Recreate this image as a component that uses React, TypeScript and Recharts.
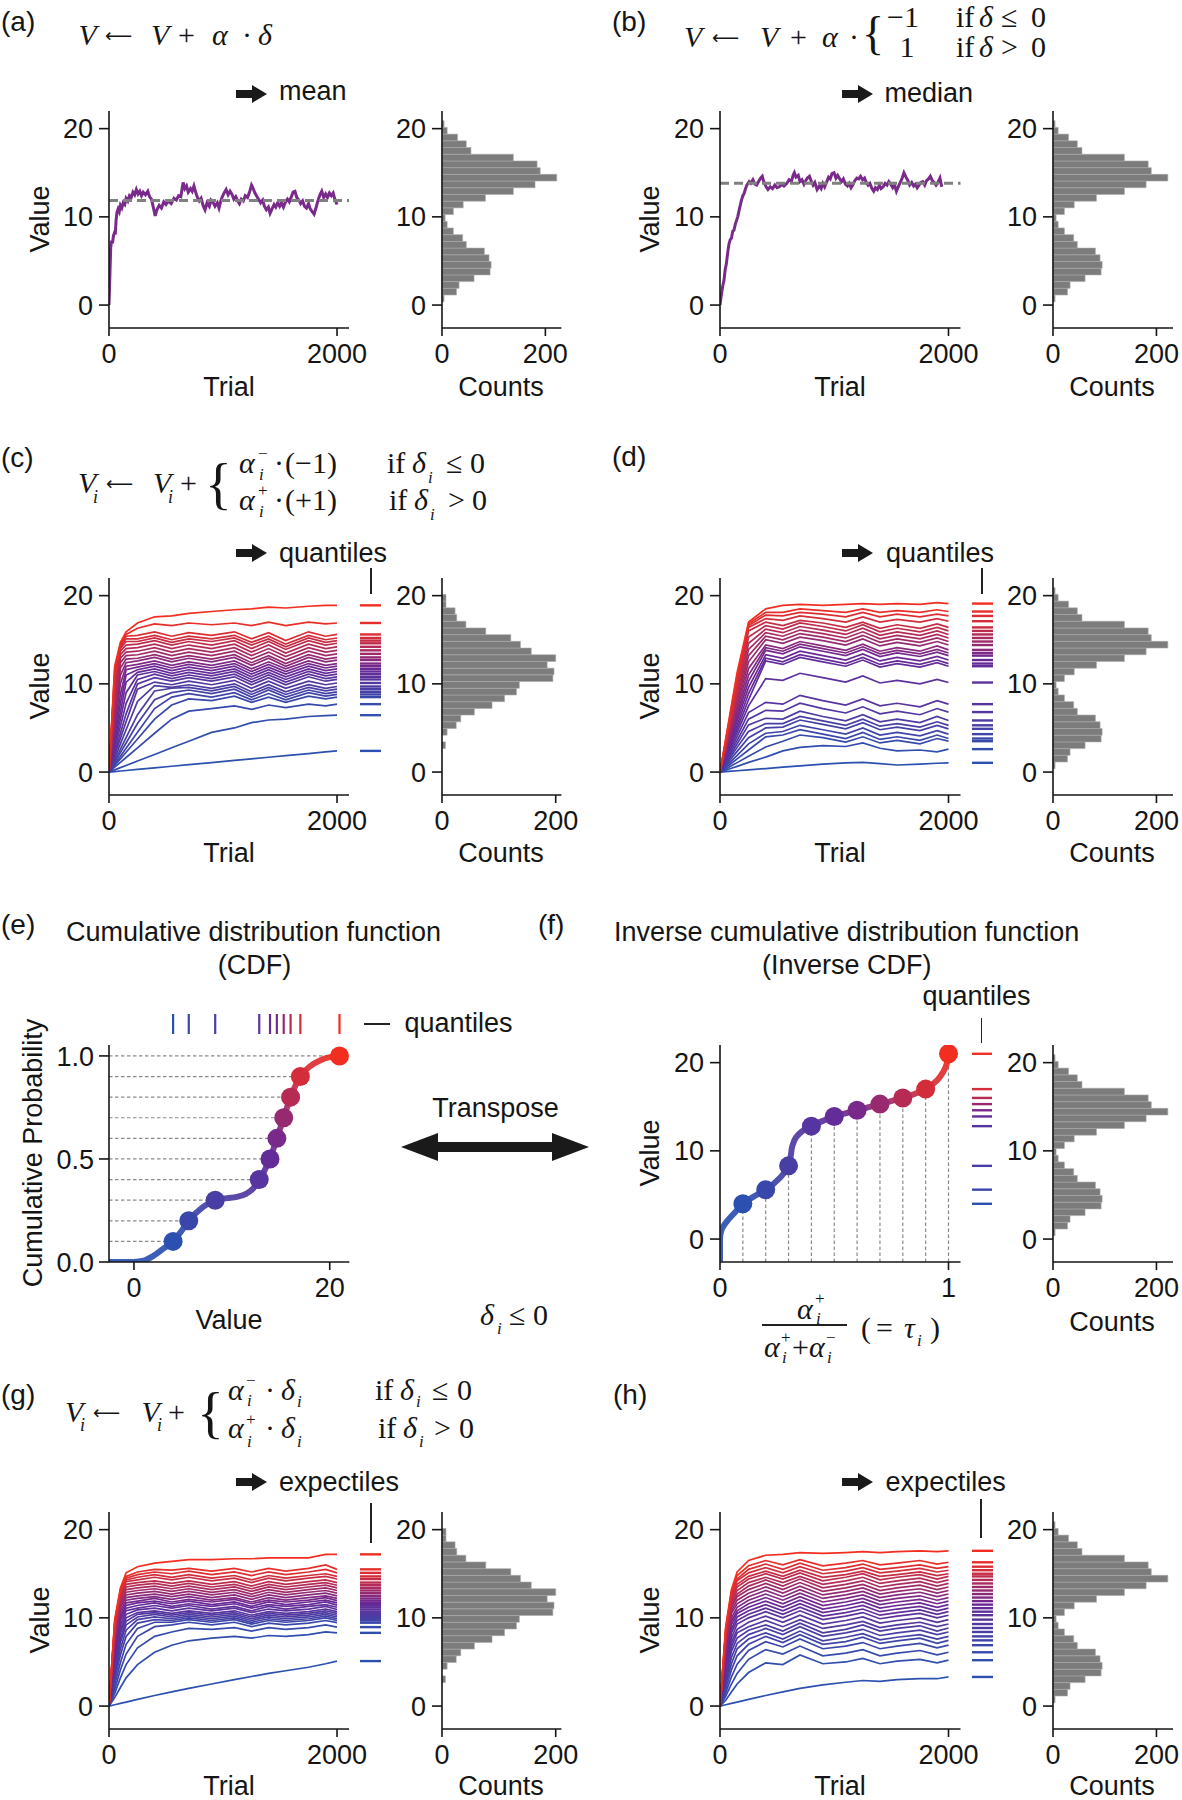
import React from 'react';
import { ComposedChart, Line, XAxis, YAxis, ReferenceLine, ReferenceArea } from 'recharts';

const FONT = '"Liberation Sans", Arial, Helvetica, sans-serif';
const SERIF = '"Liberation Serif", "Times New Roman", Times, serif';
const INK = '#151515';

// ---------------- axes ----------------
const TRIAL_DOMAIN = [0, 2105];
const TRIAL_TICKS = [0, 2000];
const VALUE_DOMAIN = [-2.6, 22];
const VALUE_TICKS = [0, 10, 20];
const COUNT_TICKS = [0, 200];
const COUNT_DOMAIN_BI = [0, 231];
const COUNT_DOMAIN_BI_R = [0, 232];
const COUNT_DOMAIN_UNI = [0, 210];
const PROB_DOMAIN = [0, 1.053];
const PROB_TICKS = [0, 0.5, 1];
const CDF_VALUE_DOMAIN = [-2.55, 22];
const CDF_VALUE_TICKS = [0, 20];
const TAU_DOMAIN = [0, 1.0525];
const TAU_TICKS = [0, 1];

// ---------------- (a) mean learner ----------------
const A_TRIAL = [0, 8, 15, 22, 30, 40, 48, 55, 62, 70, 80, 90, 100, 112, 125, 138, 150, 165, 180, 195, 210, 225, 240, 255, 270, 285, 300, 320, 340, 355, 372, 390, 405, 420, 440, 460, 480, 500, 520, 545, 570, 591, 610, 630, 650, 665, 680, 695, 715, 730, 745, 760, 775, 792, 808, 825, 842, 860, 880, 895, 910, 930, 950, 965, 985, 1005, 1027, 1045, 1062, 1077, 1095, 1112, 1130, 1144, 1160, 1178, 1195, 1215, 1235, 1250, 1262, 1280, 1297, 1312, 1330, 1348, 1363, 1380, 1398, 1413, 1430, 1448, 1463, 1480, 1497, 1513, 1530, 1548, 1565, 1581, 1600, 1615, 1631, 1647, 1665, 1681, 1698, 1715, 1732, 1750, 1765, 1782, 1799, 1815, 1832, 1850, 1866, 1883, 1900, 1916, 1933, 1950, 1966, 1983, 2000];
const A_VALUE = [0, 3.5, 6.5, 7.3, 7.0, 7.9, 8.2, 8.0, 9.6, 10.5, 10.9, 10.6, 11.3, 11.0, 11.6, 11.4, 12.1, 11.8, 12.4, 12.2, 12.8, 12.5, 13.1, 12.6, 12.9, 12.4, 12.8, 12.5, 12.9, 12.3, 12.0, 11.0, 10.1, 10.8, 11.3, 11.0, 11.7, 11.4, 11.8, 11.5, 12.1, 11.9, 12.4, 12.3, 13.9, 13.2, 13.5, 12.8, 13.2, 12.9, 13.5, 12.8, 12.2, 11.8, 12.1, 11.3, 10.8, 11.6, 11.2, 11.9, 11.7, 11.2, 11.6, 11.0, 12.0, 12.6, 13.1, 12.5, 12.9, 12.6, 12.0, 12.3, 11.8, 11.5, 12.0, 11.8, 12.4, 12.2, 12.9, 13.6, 13.3, 12.7, 12.3, 12.0, 11.6, 11.9, 11.2, 10.8, 11.1, 10.4, 10.9, 11.4, 11.1, 11.6, 11.2, 11.6, 11.1, 11.7, 12.0, 11.7, 12.3, 12.8, 12.9, 12.2, 11.9, 11.5, 11.8, 11.2, 11.0, 11.5, 10.9, 10.6, 10.3, 11.0, 11.8, 12.5, 12.9, 12.2, 12.6, 12.2, 12.7, 12.4, 12.7, 11.9, 11.4];
const A_MEAN = 11.84;

// ---------------- (b) median learner ----------------
const B_TRIAL = [0, 10, 23, 35, 45, 56, 66, 78, 89, 100, 112, 122, 135, 145, 155, 170, 188, 200, 210, 221, 235, 255, 270, 288, 305, 321, 338, 355, 370, 385, 400, 420, 440, 460, 480, 500, 519, 540, 560, 585, 605, 625, 640, 651, 665, 685, 700, 717, 735, 750, 765, 783, 800, 815, 830, 850, 870, 885, 900, 916, 935, 950, 965, 980, 998, 1015, 1030, 1048, 1064, 1080, 1098, 1115, 1130, 1147, 1165, 1180, 1198, 1215, 1230, 1248, 1265, 1280, 1296, 1312, 1330, 1345, 1360, 1378, 1395, 1410, 1428, 1445, 1462, 1478, 1495, 1512, 1528, 1544, 1560, 1578, 1595, 1610, 1628, 1645, 1660, 1678, 1695, 1710, 1726, 1742, 1758, 1775, 1792, 1808, 1825, 1841, 1858, 1875, 1891, 1908, 1925, 1941];
const B_VALUE = [0, 1.0, 2.1, 2.8, 4.0, 4.7, 5.8, 6.9, 7.4, 7.6, 8.4, 8.5, 9.2, 9.6, 10.0, 10.9, 11.9, 12.4, 12.6, 13.1, 13.6, 14.0, 13.8, 14.2, 13.7, 13.6, 14.0, 14.4, 14.6, 13.9, 13.5, 13.1, 13.4, 13.2, 13.6, 13.3, 13.4, 13.7, 13.5, 13.8, 14.2, 14.0, 14.7, 15.0, 14.5, 14.7, 14.0, 14.2, 13.7, 14.1, 14.4, 14.6, 14.0, 13.6, 13.9, 13.1, 13.5, 13.2, 13.8, 13.4, 14.0, 14.5, 14.3, 14.9, 15.0, 14.4, 14.7, 14.3, 14.0, 14.3, 13.7, 13.5, 13.8, 13.3, 13.7, 14.1, 14.4, 14.3, 14.6, 14.2, 14.4, 13.9, 13.6, 13.8, 13.2, 12.9, 13.3, 13.1, 13.6, 13.2, 13.4, 13.8, 13.6, 14.0, 13.7, 13.3, 13.6, 12.9, 13.4, 13.9, 14.4, 15.0, 14.5, 14.1, 13.6, 13.9, 13.5, 13.7, 13.3, 13.6, 13.9, 14.0, 13.6, 14.1, 14.3, 14.6, 14.1, 13.9, 13.6, 13.9, 14.4, 13.4];
const B_MEDIAN = 13.8;

// ---------------- histograms ----------------
const HIST_EDGES = [0.38, 1.14, 1.9, 2.66, 3.42, 4.18, 4.94, 5.7, 6.46, 7.22, 7.98, 8.74, 9.5, 10.26, 11.02, 11.78, 12.54, 13.3, 14.06, 14.82, 15.58, 16.34, 17.1, 17.86, 18.62, 19.38, 20.14, 20.9];
const HIST_BIMODAL = [4, 28, 33, 62, 93, 95, 91, 82, 47, 40, 22, 10, 6, 22, 41, 84, 138, 180, 222, 190, 184, 138, 56, 47, 30, 10, 4];
const HIST_UNIMODAL = [0, 0, 0, 6, 0, 9, 25, 33, 57, 88, 110, 131, 136, 195, 197, 185, 200, 157, 138, 121, 77, 42, 26, 23, 7, 7, 0];

// ---------------- multi-unit trajectories ----------------
const T_GRID = [0, 50, 100, 150, 250, 400, 550, 700, 900, 1100, 1250, 1400, 1550, 1750, 1900, 2000];

const C_LINES = [
  [0, 0.06, 0.12, 0.18, 0.3, 0.48, 0.66, 0.84, 1.08, 1.32, 1.5, 1.68, 1.86, 2.1, 2.28, 2.4],
  [0, 0.25, 0.5, 0.75, 1.25, 2.0, 2.75, 3.5, 4.5, 5.0, 5.6, 5.9, 6.0, 6.3, 6.4, 6.45],
  [0, 0.55, 1.1, 1.65, 2.75, 4.4, 6.0, 6.9, 7.2, 7.5, 7.1, 7.6, 7.3, 7.7, 7.5, 7.7],
  [0, 0.75, 1.5, 2.25, 3.75, 6.0, 7.6, 8.3, 8.1, 8.6, 7.9, 8.5, 7.9, 8.6, 8.3, 8.5],
  [0, 0.9, 1.8, 2.7, 4.5, 7.2, 8.5, 8.9, 8.5, 9.0, 8.2, 8.9, 8.2, 9.0, 8.6, 8.8],
  [0, 1.1, 2.2, 3.3, 5.5, 8.2, 9.0, 9.3, 8.9, 9.4, 8.5, 9.3, 8.5, 9.3, 8.9, 9.1],
  [0, 1.3, 2.6, 3.9, 6.5, 9.2, 9.5, 9.6, 9.2, 9.7, 8.8, 9.6, 8.8, 9.6, 9.2, 9.4],
  [0, 1.6, 3.2, 4.8, 8.0, 9.8, 9.6, 9.9, 9.5, 10.0, 9.1, 9.9, 9.1, 9.9, 9.5, 9.7],
  [0, 1.9, 3.8, 5.7, 9.4, 10.2, 9.9, 10.3, 9.9, 10.4, 9.5, 10.3, 9.5, 10.3, 9.9, 10.1],
  [0, 2.2, 4.4, 6.6, 10.0, 10.7, 10.3, 10.7, 10.3, 10.8, 9.9, 10.7, 9.9, 10.8, 10.3, 10.5],
  [0, 2.6, 5.2, 7.8, 10.5, 11.1, 10.6, 11.0, 10.6, 11.1, 10.2, 11.0, 10.2, 11.1, 10.6, 10.8],
  [0, 3.0, 6.0, 9.0, 11.0, 11.4, 10.9, 11.3, 10.9, 11.4, 10.5, 11.3, 10.5, 11.4, 10.9, 11.1],
  [0, 3.4, 6.8, 10.2, 11.3, 11.7, 11.2, 11.6, 11.2, 11.7, 10.8, 11.6, 10.8, 11.7, 11.2, 11.4],
  [0, 3.9, 7.8, 11.0, 11.6, 12.0, 11.5, 11.9, 11.5, 12.0, 11.1, 11.9, 11.1, 12.0, 11.5, 11.7],
  [0, 4.4, 8.8, 11.6, 11.9, 12.3, 11.8, 12.2, 11.8, 12.3, 11.4, 12.2, 11.4, 12.3, 11.8, 12.0],
  [0, 5.0, 10.0, 12.0, 12.2, 12.6, 12.1, 12.5, 12.1, 12.6, 11.7, 12.5, 11.7, 12.6, 12.1, 12.3],
  [0, 5.6, 11.0, 12.4, 12.6, 13.0, 12.5, 12.9, 12.5, 13.0, 12.1, 12.9, 12.0, 13.0, 12.5, 12.7],
  [0, 6.2, 11.8, 12.8, 12.9, 13.3, 12.8, 13.2, 12.8, 13.3, 12.4, 13.2, 12.3, 13.3, 12.8, 13.0],
  [0, 7.0, 12.4, 13.2, 13.3, 13.7, 13.2, 13.6, 13.2, 13.7, 12.8, 13.6, 12.7, 13.7, 13.2, 13.4],
  [0, 7.8, 12.9, 13.6, 13.7, 14.1, 13.6, 14.0, 13.6, 14.1, 13.2, 14.0, 13.1, 14.1, 13.6, 13.8],
  [0, 8.6, 13.3, 14.0, 14.1, 14.5, 14.0, 14.4, 14.0, 14.5, 13.6, 14.4, 13.5, 14.5, 14.0, 14.2],
  [0, 9.4, 13.7, 14.4, 14.5, 14.9, 14.4, 14.8, 14.4, 14.9, 14.0, 14.8, 13.9, 14.9, 14.4, 14.6],
  [0, 10.1, 14.0, 14.8, 14.8, 15.2, 14.7, 15.1, 14.8, 15.2, 14.4, 15.1, 14.2, 15.2, 14.7, 14.9],
  [0, 10.7, 14.2, 15.1, 15.1, 15.5, 15.0, 15.4, 15.1, 15.5, 14.7, 15.4, 14.5, 15.5, 15.0, 15.2],
  [0, 11.2, 14.4, 15.4, 15.5, 15.9, 15.4, 15.8, 15.5, 15.9, 15.1, 15.8, 14.9, 15.9, 15.4, 15.6],
  [0, 11.6, 14.5, 15.6, 16.3, 16.8, 16.6, 16.9, 16.7, 16.9, 16.6, 17.0, 16.6, 17.0, 16.8, 16.9],
  [0, 12.0, 14.7, 15.9, 16.9, 17.6, 17.7, 18.0, 18.2, 18.4, 18.5, 18.7, 18.6, 18.8, 18.9, 18.9],
];

const D_LINES = [
  [0, 0.05, 0.1, 0.15, 0.25, 0.4, 0.55, 0.7, 0.9, 1.05, 1.1, 0.95, 0.8, 0.9, 1.0, 1.05],
  [0, 0.2, 0.43, 0.65, 1.1, 1.7, 2.4, 2.8, 3.0, 2.9, 3.3, 2.7, 2.4, 2.5, 2.3, 2.6],
  [0, 0.36, 0.71, 1.07, 1.8, 2.85, 3.5, 4.2, 3.9, 3.4, 4.0, 3.3, 3.6, 3.2, 3.8, 3.5],
  [0, 0.5, 1.0, 1.5, 2.5, 4.0, 4.2, 4.8, 4.3, 3.8, 4.5, 3.7, 4.0, 3.6, 4.2, 3.8],
  [0, 0.64, 1.28, 1.9, 3.2, 4.4, 4.6, 5.3, 4.8, 4.3, 5.0, 4.2, 4.5, 4.1, 4.7, 4.3],
  [0, 0.78, 1.57, 2.35, 3.9, 5.0, 5.1, 5.9, 5.4, 4.9, 5.6, 4.8, 5.1, 4.7, 5.3, 4.9],
  [0, 0.93, 1.85, 2.8, 4.6, 5.5, 5.5, 6.3, 5.8, 5.3, 6.0, 5.2, 5.5, 5.1, 5.7, 5.3],
  [0, 1.07, 2.14, 3.2, 5.35, 6.1, 6.0, 6.9, 6.3, 5.8, 6.5, 5.7, 6.0, 5.6, 6.3, 5.85],
  [0, 1.2, 2.4, 3.6, 6.0, 7.0, 6.9, 7.8, 7.2, 6.7, 7.4, 6.6, 6.9, 6.5, 7.2, 6.8],
  [0, 1.35, 2.7, 4.05, 6.75, 7.9, 7.7, 8.7, 8.1, 7.6, 8.3, 7.5, 7.8, 7.4, 8.1, 7.7],
  [0, 1.5, 3.0, 4.5, 7.5, 10.6, 10.4, 11.2, 10.7, 10.2, 10.9, 10.1, 10.4, 10.0, 10.5, 10.15],
  [0, 1.64, 3.3, 4.9, 8.2, 12.6, 12.2, 13.0, 12.5, 12.0, 12.7, 11.9, 12.3, 11.9, 12.4, 12.0],
  [0, 1.8, 3.6, 5.3, 8.9, 12.9, 12.5, 13.3, 12.8, 12.3, 13.0, 12.2, 12.6, 12.2, 12.7, 12.3],
  [0, 1.9, 3.85, 5.8, 9.6, 13.3, 12.9, 13.7, 13.2, 12.7, 13.4, 12.6, 13.0, 12.6, 13.1, 12.7],
  [0, 2.1, 4.1, 6.2, 10.3, 13.8, 13.4, 14.2, 13.7, 13.2, 13.9, 13.1, 13.5, 13.1, 13.6, 13.2],
  [0, 2.2, 4.4, 6.6, 11.0, 14.1, 13.7, 14.5, 14.0, 13.5, 14.2, 13.4, 13.8, 13.4, 13.9, 13.5],
  [0, 2.35, 4.7, 7.05, 11.75, 14.4, 14.0, 14.8, 14.3, 13.8, 14.5, 13.7, 14.1, 13.7, 14.3, 13.85],
  [0, 2.5, 5.0, 7.5, 12.5, 15.0, 14.6, 15.3, 14.9, 14.4, 15.1, 14.3, 14.7, 14.3, 14.8, 14.4],
  [0, 2.6, 5.3, 7.9, 13.2, 15.4, 15.0, 15.7, 15.3, 14.8, 15.5, 14.7, 15.1, 14.7, 15.2, 14.8],
  [0, 2.8, 5.6, 8.3, 13.9, 15.8, 15.4, 16.1, 15.7, 15.2, 15.9, 15.1, 15.5, 15.1, 15.6, 15.2],
  [0, 2.9, 5.8, 8.8, 14.6, 16.2, 15.8, 16.5, 16.1, 15.6, 16.3, 15.5, 15.9, 15.5, 16.0, 15.6],
  [0, 3.1, 6.1, 9.2, 15.3, 16.6, 16.2, 16.9, 16.5, 16.0, 16.7, 15.9, 16.3, 15.9, 16.4, 16.0],
  [0, 3.2, 6.4, 9.6, 16.0, 17.0, 16.6, 17.2, 16.9, 16.4, 17.0, 16.3, 16.7, 16.3, 16.8, 16.4],
  [0, 3.35, 6.7, 10.0, 16.4, 17.4, 17.2, 17.7, 17.4, 17.0, 17.6, 17.0, 17.3, 17.0, 17.4, 17.1],
  [0, 3.5, 7.0, 10.5, 16.6, 17.8, 17.7, 18.1, 17.9, 17.6, 18.1, 17.6, 17.9, 17.6, 17.9, 17.7],
  [0, 3.6, 7.3, 10.9, 16.8, 18.1, 18.1, 18.5, 18.3, 18.1, 18.5, 18.1, 18.3, 18.1, 18.4, 18.2],
  [0, 3.8, 7.6, 11.3, 17.0, 18.5, 18.9, 19.0, 18.9, 19.0, 19.1, 19.0, 19.1, 19.0, 19.2, 19.1],
];

const G_LINES = [
  [0, 0.15, 0.3, 0.45, 0.75, 1.2, 1.6, 2.0, 2.5, 3.0, 3.35, 3.7, 4.0, 4.4, 4.8, 5.1],
  [0, 0.96, 2.1, 3.2, 4.7, 6.1, 6.9, 7.4, 7.7, 7.9, 7.7, 8.0, 7.9, 8.1, 8.4, 8.3],
  [0, 1.44, 3.2, 4.7, 6.6, 7.9, 8.4, 8.8, 8.7, 8.9, 8.5, 8.9, 8.7, 8.9, 9.2, 8.95],
  [0, 1.92, 4.1, 5.9, 7.9, 9.0, 9.2, 9.5, 9.2, 9.5, 9.0, 9.4, 9.2, 9.4, 9.7, 9.45],
  [0, 2.4, 4.9, 7.0, 8.8, 9.5, 9.5, 9.8, 9.5, 9.8, 9.3, 9.7, 9.5, 9.7, 10.0, 9.7],
  [0, 2.9, 5.8, 7.9, 9.4, 9.8, 9.7, 10.0, 9.7, 10.0, 9.5, 9.9, 9.7, 9.9, 10.2, 9.9],
  [0, 3.4, 6.5, 8.6, 9.8, 10.1, 9.9, 10.2, 9.9, 10.2, 9.7, 10.1, 9.9, 10.1, 10.4, 10.1],
  [0, 3.8, 7.2, 9.2, 10.1, 10.4, 10.1, 10.4, 10.1, 10.4, 9.9, 10.3, 10.1, 10.3, 10.6, 10.3],
  [0, 4.2, 7.7, 9.6, 10.4, 10.6, 10.3, 10.6, 10.3, 10.6, 10.1, 10.5, 10.3, 10.5, 10.8, 10.5],
  [0, 4.7, 8.3, 10.0, 10.6, 10.8, 10.5, 10.8, 10.5, 10.8, 10.3, 10.7, 10.5, 10.7, 11.0, 10.7],
  [0, 5.1, 8.7, 10.4, 10.9, 11.1, 10.8, 11.1, 10.8, 11.1, 10.6, 11.0, 10.8, 11.0, 11.3, 10.95],
  [0, 5.5, 9.2, 10.8, 11.1, 11.4, 11.1, 11.4, 11.0, 11.3, 10.8, 11.3, 11.0, 11.3, 11.5, 11.2],
  [0, 5.9, 9.7, 11.1, 11.4, 11.7, 11.3, 11.6, 11.3, 11.6, 11.1, 11.5, 11.3, 11.5, 11.8, 11.45],
  [0, 6.3, 10.0, 11.4, 11.7, 11.9, 11.6, 11.9, 11.5, 11.8, 11.3, 11.8, 11.5, 11.8, 12.0, 11.7],
  [0, 6.6, 10.4, 11.7, 11.9, 12.2, 11.8, 12.1, 11.8, 12.1, 11.6, 12.0, 11.8, 12.0, 12.3, 11.95],
  [0, 7.0, 10.8, 12.0, 12.2, 12.4, 12.1, 12.4, 12.0, 12.3, 11.8, 12.3, 12.0, 12.3, 12.5, 12.2],
  [0, 7.3, 11.2, 12.3, 12.5, 12.7, 12.4, 12.7, 12.3, 12.6, 12.1, 12.6, 12.3, 12.6, 12.8, 12.5],
  [0, 7.6, 11.4, 12.6, 12.8, 13.0, 12.7, 13.0, 12.6, 12.9, 12.4, 12.9, 12.6, 12.9, 13.1, 12.8],
  [0, 7.9, 11.7, 12.9, 13.1, 13.3, 13.0, 13.3, 12.9, 13.2, 12.7, 13.2, 12.9, 13.2, 13.4, 13.1],
  [0, 8.2, 12.0, 13.2, 13.4, 13.6, 13.3, 13.6, 13.2, 13.5, 13.0, 13.5, 13.2, 13.5, 13.7, 13.4],
  [0, 8.6, 12.3, 13.5, 13.7, 13.9, 13.6, 13.9, 13.5, 13.8, 13.3, 13.8, 13.5, 13.8, 14.0, 13.7],
  [0, 8.8, 12.5, 13.8, 14.0, 14.2, 13.9, 14.2, 13.8, 14.1, 13.6, 14.1, 13.8, 14.1, 14.3, 14.0],
  [0, 9.0, 12.6, 14.1, 14.3, 14.6, 14.3, 14.6, 14.2, 14.5, 14.0, 14.5, 14.2, 14.5, 14.7, 14.4],
  [0, 9.3, 12.8, 14.3, 14.6, 14.9, 14.6, 14.9, 14.5, 14.8, 14.3, 14.8, 14.5, 14.8, 15.0, 14.7],
  [0, 9.4, 13.0, 14.5, 14.9, 15.2, 15.0, 15.3, 14.9, 15.2, 14.8, 15.2, 14.9, 15.2, 15.5, 15.1],
  [0, 9.6, 13.2, 14.7, 15.2, 15.5, 15.4, 15.6, 15.3, 15.6, 15.2, 15.6, 15.3, 15.6, 16.0, 15.5],
  [0, 9.8, 13.4, 15.1, 15.8, 16.2, 16.4, 16.6, 16.6, 16.7, 16.7, 16.8, 16.8, 16.8, 17.2, 17.2],
];

const H_LINES = [
  [0, 0.15, 0.3, 0.45, 0.75, 1.2, 1.6, 2.0, 2.4, 2.7, 2.9, 2.8, 3.0, 3.1, 3.1, 3.3],
  [0, 0.65, 1.6, 2.5, 3.8, 4.9, 4.7, 5.8, 4.8, 5.0, 5.4, 4.8, 5.1, 5.3, 4.9, 5.2],
  [0, 1.1, 2.5, 3.7, 5.3, 6.4, 5.9, 6.8, 5.7, 6.0, 6.4, 5.7, 6.0, 6.3, 5.8, 6.1],
  [0, 1.5, 3.3, 4.75, 6.3, 7.3, 6.7, 7.6, 6.5, 6.8, 7.2, 6.5, 6.8, 7.1, 6.6, 6.9],
  [0, 1.9, 4.1, 5.7, 7.0, 7.9, 7.2, 8.1, 7.0, 7.3, 7.8, 7.1, 7.4, 7.7, 7.1, 7.45],
  [0, 2.4, 4.8, 6.5, 7.6, 8.3, 7.6, 8.5, 7.4, 7.8, 8.2, 7.5, 7.8, 8.1, 7.6, 7.9],
  [0, 2.7, 5.5, 7.1, 8.1, 8.8, 8.1, 9.0, 7.9, 8.3, 8.7, 8.0, 8.3, 8.6, 8.1, 8.4],
  [0, 3.1, 6.2, 7.7, 8.6, 9.2, 8.5, 9.4, 8.3, 8.7, 9.2, 8.5, 8.8, 9.1, 8.5, 8.85],
  [0, 3.5, 6.7, 8.3, 9.0, 9.7, 9.0, 9.8, 8.8, 9.2, 9.6, 8.9, 9.2, 9.5, 9.0, 9.3],
  [0, 3.8, 7.2, 8.7, 9.5, 10.2, 9.5, 10.3, 9.3, 9.7, 10.1, 9.4, 9.7, 10.0, 9.5, 9.8],
  [0, 4.2, 7.7, 9.3, 10.0, 10.7, 10.0, 10.8, 9.8, 10.2, 10.6, 9.9, 10.2, 10.5, 10.0, 10.3],
  [0, 4.5, 8.3, 9.7, 10.4, 11.1, 10.4, 11.2, 10.2, 10.6, 11.0, 10.3, 10.6, 10.9, 10.4, 10.7],
  [0, 4.9, 8.7, 10.1, 10.8, 11.5, 10.8, 11.6, 10.6, 11.0, 11.4, 10.7, 11.0, 11.3, 10.8, 11.1],
  [0, 5.3, 9.2, 10.5, 11.2, 11.9, 11.2, 12.0, 11.0, 11.4, 11.8, 11.1, 11.4, 11.7, 11.2, 11.5],
  [0, 5.6, 9.6, 10.8, 11.6, 12.3, 11.6, 12.4, 11.4, 11.8, 12.2, 11.5, 11.8, 12.1, 11.6, 11.9],
  [0, 6.0, 10.0, 11.2, 12.0, 12.7, 12.0, 12.8, 11.8, 12.2, 12.6, 11.9, 12.2, 12.5, 12.0, 12.3],
  [0, 6.3, 10.5, 11.6, 12.4, 13.1, 12.4, 13.2, 12.2, 12.6, 13.0, 12.3, 12.6, 12.9, 12.4, 12.7],
  [0, 6.7, 10.8, 12.0, 12.8, 13.5, 12.8, 13.6, 12.6, 13.0, 13.4, 12.7, 13.0, 13.3, 12.8, 13.1],
  [0, 7.1, 11.2, 12.4, 13.2, 13.9, 13.2, 14.0, 13.0, 13.4, 13.8, 13.1, 13.4, 13.7, 13.2, 13.5],
  [0, 7.3, 11.4, 12.7, 13.6, 14.3, 13.6, 14.4, 13.4, 13.8, 14.2, 13.5, 13.8, 14.1, 13.6, 13.9],
  [0, 7.6, 11.7, 13.1, 14.0, 14.6, 14.0, 14.7, 13.8, 14.2, 14.6, 13.9, 14.2, 14.5, 14.0, 14.3],
  [0, 7.9, 12.0, 13.5, 14.4, 15.0, 14.4, 15.1, 14.2, 14.6, 15.0, 14.3, 14.6, 14.9, 14.4, 14.7],
  [0, 8.2, 12.2, 13.8, 14.7, 15.3, 14.7, 15.4, 14.6, 14.9, 15.3, 14.7, 14.9, 15.2, 14.8, 15.0],
  [0, 8.4, 12.5, 14.2, 15.1, 15.7, 15.1, 15.8, 15.0, 15.3, 15.7, 15.1, 15.3, 15.6, 15.2, 15.4],
  [0, 8.6, 12.8, 14.4, 15.5, 16.1, 15.5, 16.2, 15.4, 15.7, 16.1, 15.5, 15.7, 16.0, 15.6, 15.8],
  [0, 8.8, 13.0, 14.8, 15.9, 16.5, 16.0, 16.6, 15.9, 16.2, 16.5, 16.0, 16.2, 16.5, 16.1, 16.3],
  [0, 9.0, 13.2, 15.2, 16.5, 17.1, 17.2, 17.4, 17.3, 17.4, 17.5, 17.4, 17.5, 17.6, 17.5, 17.6],
];

// ---------------- (e)/(f) distribution ----------------
const CDF_VALUE = [-2.55, 0, 1, 2, 3, 4, 5, 5.6, 7, 8.3, 9.5, 10.5, 11.5, 12.2, 12.8, 13.4, 13.9, 14.6, 15.3, 16, 17, 18, 19, 20, 21];
const CDF_PROB = [0, 0, 0.006, 0.03, 0.065, 0.1, 0.16, 0.2, 0.265, 0.3, 0.31, 0.316, 0.332, 0.358, 0.4, 0.45, 0.5, 0.6, 0.7, 0.8, 0.9, 0.95, 0.978, 0.994, 1.0];
const Q_PROB = [0.1, 0.2, 0.3, 0.4, 0.5, 0.6, 0.7, 0.8, 0.9, 1.0];
const Q_VALUE = [4.0, 5.6, 8.3, 12.8, 13.9, 14.6, 15.3, 16.0, 17.0, 21.0];

// ---------------- styling helpers ----------------
const BLUE = [44, 80, 176];
const PURPLE = [106, 40, 150];
const RED = [242, 46, 32];
function ramp(f: number) {
  const [a, b, u] = f < 0.5 ? [BLUE, PURPLE, f / 0.5] : [PURPLE, RED, (f - 0.5) / 0.5];
  return `rgb(${(a as number[]).map((v, i) => Math.round(v + ((b as number[])[i] - v) * (u as number))).join(',')})`;
}
const Q_COLORS = Q_PROB.map((_, i) => ramp(i / (Q_PROB.length - 1)));

const YW = 90, XH = 64, MT = 12, MR = 30;
const AXIS = { stroke: INK, strokeWidth: 1.6 };
const TICK = { fill: INK, fontSize: 27, fontFamily: FONT };

function Frame({ box, data, xDomain, xTicks, yDomain, yTicks, yFmt, yMargin = 6, children }: any) {
  return (
    <div style={{ position: 'absolute', left: box.x - YW, top: box.y - MT }}>
      <ComposedChart width={YW + box.w + MR} height={MT + box.h + XH} data={data} margin={{ top: MT, right: MR, left: 0, bottom: 0 }}>
        <XAxis type="number" dataKey="x" domain={xDomain} ticks={xTicks} interval={0} allowDataOverflow axisLine={AXIS} tickLine={AXIS} tickSize={8} tickMargin={8} tick={TICK} height={XH} />
        <YAxis type="number" dataKey="y" domain={yDomain} ticks={yTicks} interval={0} allowDataOverflow axisLine={AXIS} tickLine={AXIS} tickSize={10} tickMargin={yMargin} tick={TICK} width={YW} tickFormatter={yFmt} />
        {children}
      </ComposedChart>
    </div>
  );
}

function Strip({ x, y, w, h, values, colors, domain = VALUE_DOMAIN, vertical = false }: any) {
  return (
    <div style={{ position: 'absolute', left: x, top: y }}>
      <ComposedChart width={w} height={h} data={[{ x: 0 }, { x: 1 }]} margin={{ top: 0, right: 0, left: 0, bottom: 0 }}>
        <XAxis type="number" dataKey="x" domain={vertical ? domain : [0, 1]} hide allowDataOverflow />
        <YAxis type="number" domain={vertical ? [0, 1] : domain} hide allowDataOverflow />
        {values.map((v: number, i: number) => (
          <ReferenceLine key={i} segment={vertical ? [{ x: v, y: 0 }, { x: v, y: 1 }] : [{ x: 0, y: v }, { x: 1, y: v }]} stroke={colors[i]} strokeWidth={vertical ? 2.2 : 2.4} ifOverflow="visible" />
        ))}
      </ComposedChart>
    </div>
  );
}

function Hist({ box, counts, domain }: any) {
  return (
    <Frame box={box} data={[{ x: 0, y: 0 }]} xDomain={domain} xTicks={COUNT_TICKS} yDomain={VALUE_DOMAIN} yTicks={VALUE_TICKS}>
      {counts.map((c: number, i: number) => (c > 0 ? (
        <ReferenceArea key={i} x1={0} x2={c} y1={HIST_EDGES[i]} y2={HIST_EDGES[i + 1]} fill="#7c7c7c" fillOpacity={1} stroke="#a9a9a9" strokeWidth={0.6} ifOverflow="visible" />
      ) : null))}
    </Frame>
  );
}

function SingleLine({ box, trials, values, level }: any) {
  const rows = trials.map((t: number, i: number) => ({ x: t, v: values[i] }));
  return (
    <Frame box={box} data={rows} xDomain={TRIAL_DOMAIN} xTicks={TRIAL_TICKS} yDomain={VALUE_DOMAIN} yTicks={VALUE_TICKS}>
      <Line type="linear" dataKey="v" stroke="#7a2a8b" strokeWidth={3} dot={false} activeDot={false} isAnimationActive={false} />
      <ReferenceLine y={level} stroke="#808080" strokeWidth={3} strokeDasharray="9 5" />
    </Frame>
  );
}

function MultiLines({ box, lines, stripX }: any) {
  const rows = T_GRID.map((t, j) => {
    const r: any = { x: t };
    lines.forEach((l: number[], i: number) => { r['l' + i] = l[j]; });
    return r;
  });
  const n = lines.length;
  const colors = lines.map((_: any, i: number) => ramp(i / (n - 1)));
  return (
    <>
      <Frame box={box} data={rows} xDomain={TRIAL_DOMAIN} xTicks={TRIAL_TICKS} yDomain={VALUE_DOMAIN} yTicks={VALUE_TICKS}>
        {lines.map((_: any, i: number) => (
          <Line key={i} type="linear" dataKey={'l' + i} stroke={colors[i]} strokeWidth={1.7} dot={false} activeDot={false} isAnimationActive={false} />
        ))}
      </Frame>
      <Strip x={stripX} y={box.y} w={21} h={box.h} values={lines.map((l: number[]) => l[l.length - 1])} colors={colors} />
    </>
  );
}

function gradStops(lo: number, hi: number) {
  const stops = [<stop key="s0" offset="0" stopColor={ramp(0)} />];
  Q_VALUE.forEach((v, i) => stops.push(<stop key={'s' + (i + 1)} offset={String((v - lo) / (hi - lo))} stopColor={Q_COLORS[i]} />));
  return stops;
}

const qDot = (p: any) => <circle key={'q' + p.index} cx={p.cx} cy={p.cy} r={9.5} fill={Q_COLORS[p.index]} />;

function CdfChart({ box }: any) {
  const curve = CDF_VALUE.map((v, i) => ({ x: v, y: CDF_PROB[i] }));
  const pts = Q_VALUE.map((v, i) => ({ x: v, y: Q_PROB[i] }));
  return (
    <Frame box={box} data={curve} xDomain={CDF_VALUE_DOMAIN} xTicks={CDF_VALUE_TICKS} yDomain={PROB_DOMAIN} yTicks={PROB_TICKS} yFmt={(v: number) => v.toFixed(1)} yMargin={5}>
      <defs>
        <linearGradient id="gradE" x1="0" y1="0" x2="1" y2="0">{gradStops(CDF_VALUE[0], CDF_VALUE[CDF_VALUE.length - 1])}</linearGradient>
      </defs>
      {Q_VALUE.map((v, i) => (
        <ReferenceLine key={'h' + i} segment={[{ x: CDF_VALUE_DOMAIN[0], y: Q_PROB[i] }, { x: v, y: Q_PROB[i] }]} stroke="#8a8a8a" strokeWidth={1.2} strokeDasharray="3.5 2.5" />
      ))}
      <Line data={curve} type="monotone" dataKey="y" stroke="url(#gradE)" strokeWidth={6} strokeOpacity={0.92} dot={false} activeDot={false} isAnimationActive={false} />
      <Line data={pts} type="linear" dataKey="y" stroke="none" strokeWidth={0} dot={qDot} activeDot={false} isAnimationActive={false} />
    </Frame>
  );
}

function InvCdfChart({ box }: any) {
  const curve = CDF_PROB.map((p, i) => ({ x: p, y: CDF_VALUE[i] }));
  const pts = Q_PROB.map((p, i) => ({ x: p, y: Q_VALUE[i] }));
  return (
    <Frame box={box} data={curve} xDomain={TAU_DOMAIN} xTicks={TAU_TICKS} yDomain={VALUE_DOMAIN} yTicks={VALUE_TICKS}>
      <defs>
        <linearGradient id="gradF" x1="0" y1="1" x2="0" y2="0">{gradStops(CDF_VALUE[0], CDF_VALUE[CDF_VALUE.length - 1])}</linearGradient>
      </defs>
      {Q_PROB.map((p, i) => (
        <ReferenceLine key={'v' + i} segment={[{ x: p, y: VALUE_DOMAIN[0] }, { x: p, y: Q_VALUE[i] }]} stroke="#8a8a8a" strokeWidth={1.2} strokeDasharray="3.5 2.5" />
      ))}
      <Line data={curve} type="monotoneY" dataKey="y" stroke="url(#gradF)" strokeWidth={6} strokeOpacity={0.92} dot={false} activeDot={false} isAnimationActive={false} />
      <Line data={pts} type="linear" dataKey="y" stroke="none" strokeWidth={0} dot={qDot} activeDot={false} isAnimationActive={false} />
    </Frame>
  );
}

// ---------------- text helpers ----------------
function Txt({ x, y, children, size = 27, anchor = 'start', rotate = false, style = {} }: any) {
  const tx = anchor === 'middle' ? '-50%' : anchor === 'end' ? '-100%' : '0%';
  return (
    <div style={{ position: 'absolute', left: x, top: y, transform: `translate(${tx}, -50%)${rotate ? ' rotate(-90deg)' : ''}`, fontFamily: FONT, fontSize: size, lineHeight: 1, whiteSpace: 'nowrap', color: INK, ...style }}>
      {children}
    </div>
  );
}
function G({ x, y, s = 30, i = false, f = SERIF, children }: any) {
  return (
    <div style={{ position: 'absolute', left: x, top: y, transform: 'translate(0, -50%)', fontFamily: f, fontSize: s, fontStyle: i ? 'italic' : 'normal', lineHeight: 1, whiteSpace: 'nowrap', color: INK }}>
      {children}
    </div>
  );
}
// long left arrow of the update rule
function LArrow({ x, y }: any) {
  return <G x={x} y={y} s={19} f={'"DejaVu Sans", sans-serif'}>⟵</G>;
}
function Arrow({ x, y }: any) {
  return (
    <svg style={{ position: 'absolute', left: x, top: y - 9 }} width={31} height={18}>
      <polygon points="0,5 16,5 16,0 31,9 16,18 16,13 0,13" fill="#1a1a1a" />
    </svg>
  );
}
function VMark({ x, y1, y2 }: any) {
  return <div style={{ position: 'absolute', left: x - 0.8, top: y1, width: 1.6, height: y2 - y1, background: '#222' }} />;
}

const BOX_A = { x: 109, y: 111, w: 240, h: 217 };
const HIST_A = { x: 442, y: 111, w: 119.4, h: 217 };
const BOX_B = { x: 719.5, y: 111, w: 240.5, h: 217 };
const HIST_B = { x: 1052.8, y: 111, w: 120, h: 217 };
const BOX_C = { x: 109, y: 578, w: 240, h: 217 };
const HIST_C = { x: 442, y: 578, w: 119.4, h: 217 };
const BOX_D = { x: 719.5, y: 578, w: 240.5, h: 217 };
const HIST_D = { x: 1052.8, y: 578, w: 120, h: 217 };
const BOX_E = { x: 108.7, y: 1045, w: 240.3, h: 217 };
const BOX_F = { x: 719.5, y: 1045, w: 240.5, h: 217 };
const HIST_F = { x: 1052.8, y: 1045, w: 120, h: 217 };
const BOX_G = { x: 109, y: 1512, w: 240, h: 217 };
const HIST_G = { x: 442, y: 1512, w: 119.4, h: 217 };
const BOX_H = { x: 719.5, y: 1512, w: 240.5, h: 217 };
const HIST_H = { x: 1052.8, y: 1512, w: 120, h: 217 };

export default function App() {
  return (
    <div style={{ position: 'absolute', left: 0, top: 0, width: 1182, height: 1800, background: '#fff', overflow: 'hidden', color: INK }}>
      {/* ===== (a) ===== */}
      <Txt x={1} y={22} size={28}>(a)</Txt>
      <G x={78.5} y={35} i>V</G>
      <LArrow x={105} y={35} />
      <G x={151} y={35} i>V</G>
      <G x={178} y={35}>+</G>
      <G x={212} y={35} i>α</G>
      <G x={242} y={35}>·</G>
      <G x={258} y={35} i>δ</G>
      <Arrow x={236} y={94} />
      <Txt x={279} y={91}>mean</Txt>
      <SingleLine box={BOX_A} trials={A_TRIAL} values={A_VALUE} level={A_MEAN} />
      <Hist box={HIST_A} counts={HIST_BIMODAL} domain={COUNT_DOMAIN_BI} />
      <Txt x={40} y={219} rotate anchor="middle">Value</Txt>
      <Txt x={229} y={387} anchor="middle">Trial</Txt>
      <Txt x={501} y={387} anchor="middle">Counts</Txt>

      {/* ===== (b) ===== */}
      <Txt x={612} y={22} size={28}>(b)</Txt>
      <G x={684} y={37} i>V</G>
      <LArrow x={712} y={37} />
      <G x={760} y={37} i>V</G>
      <G x={790} y={37}>+</G>
      <G x={822} y={37} i>α</G>
      <G x={849} y={37}>·</G>
      <G x={862} y={34} s={46}>{'{'}</G>
      <G x={887} y={17}>−1</G>
      <G x={899.5} y={47}>1</G>
      <G x={956} y={17}>if</G>
      <G x={979} y={17} i>δ</G>
      <G x={1001} y={17}>≤</G>
      <G x={1031} y={17}>0</G>
      <G x={956} y={47}>if</G>
      <G x={979} y={47} i>δ</G>
      <G x={1001} y={47}>&gt;</G>
      <G x={1031} y={47}>0</G>
      <Arrow x={842} y={94} />
      <Txt x={884.5} y={93}>median</Txt>
      <SingleLine box={BOX_B} trials={B_TRIAL} values={B_VALUE} level={B_MEDIAN} />
      <Hist box={HIST_B} counts={HIST_BIMODAL} domain={COUNT_DOMAIN_BI_R} />
      <Txt x={650} y={219} rotate anchor="middle">Value</Txt>
      <Txt x={840} y={387} anchor="middle">Trial</Txt>
      <Txt x={1112} y={387} anchor="middle">Counts</Txt>

      {/* ===== (c) ===== */}
      <Txt x={1} y={458} size={28}>(c)</Txt>
      <G x={78} y={483} i>V</G>
      <G x={93} y={497} s={18} i>i</G>
      <LArrow x={106} y={483} />
      <G x={153} y={483} i>V</G>
      <G x={168} y={497} s={18} i>i</G>
      <G x={180} y={483}>+</G>
      <G x={205} y={484} s={56}>{'{'}</G>
      <G x={239} y={463} i>α</G>
      <G x={258} y={453} s={17}>−</G>
      <G x={259} y={474} s={17} i>i</G>
      <G x={274} y={463}>·</G>
      <G x={285} y={463}>(−1)</G>
      <G x={387} y={463}>if</G>
      <G x={412} y={463} i>δ</G>
      <G x={428} y={477} s={17} i>i</G>
      <G x={446} y={463}>≤</G>
      <G x={470} y={463}>0</G>
      <G x={239} y={500} i>α</G>
      <G x={258} y={490} s={17}>+</G>
      <G x={259} y={511} s={17} i>i</G>
      <G x={274} y={500}>·</G>
      <G x={285} y={500}>(+1)</G>
      <G x={389} y={500}>if</G>
      <G x={414} y={500} i>δ</G>
      <G x={430} y={514} s={17} i>i</G>
      <G x={448} y={500}>&gt;</G>
      <G x={472} y={500}>0</G>
      <Arrow x={236} y={553} />
      <Txt x={279} y={553}>quantiles</Txt>
      <VMark x={371} y1={568} y2={594} />
      <MultiLines box={BOX_C} lines={C_LINES} stripX={360} />
      <Hist box={HIST_C} counts={HIST_UNIMODAL} domain={COUNT_DOMAIN_UNI} />
      <Txt x={40} y={686} rotate anchor="middle">Value</Txt>
      <Txt x={229} y={853} anchor="middle">Trial</Txt>
      <Txt x={501} y={853} anchor="middle">Counts</Txt>

      {/* ===== (d) ===== */}
      <Txt x={612} y={457} size={28}>(d)</Txt>
      <Arrow x={842} y={553} />
      <Txt x={886} y={553}>quantiles</Txt>
      <VMark x={982} y1={568} y2={594} />
      <MultiLines box={BOX_D} lines={D_LINES} stripX={971.5} />
      <Hist box={HIST_D} counts={HIST_BIMODAL} domain={COUNT_DOMAIN_BI_R} />
      <Txt x={650} y={686} rotate anchor="middle">Value</Txt>
      <Txt x={840} y={853} anchor="middle">Trial</Txt>
      <Txt x={1112} y={853} anchor="middle">Counts</Txt>

      {/* ===== (e) ===== */}
      <Txt x={1} y={925} size={28}>(e)</Txt>
      <Txt x={253.5} y={932} anchor="middle" size={27}>Cumulative distribution function</Txt>
      <Txt x={254.5} y={965} anchor="middle" size={27}>(CDF)</Txt>
      <Strip x={BOX_E.x} y={1014} w={BOX_E.w} h={20} values={Q_VALUE} colors={Q_COLORS} domain={CDF_VALUE_DOMAIN} vertical />
      <div style={{ position: 'absolute', left: 363.5, top: 1023.2, width: 26.5, height: 1.6, background: '#222' }} />
      <Txt x={404.5} y={1023}>quantiles</Txt>
      <CdfChart box={BOX_E} />
      <Txt x={32.5} y={1153} rotate anchor="middle" size={27}>Cumulative Probability</Txt>
      <Txt x={229} y={1320} anchor="middle">Value</Txt>
      <Txt x={495.6} y={1108} anchor="middle">Transpose</Txt>
      <svg style={{ position: 'absolute', left: 401, top: 1133 }} width={188} height={28}>
        <polygon points="0,14 37,0 37,9 151,9 151,0 188,14 151,28 151,19 37,19 37,28" fill="#1a1a1a" />
      </svg>
      <G x={480} y={1315} i>δ</G>
      <G x={497} y={1328} s={17} i>i</G>
      <G x={509} y={1315}>≤</G>
      <G x={533} y={1315}>0</G>

      {/* ===== (f) ===== */}
      <Txt x={538} y={925} size={28}>(f)</Txt>
      <Txt x={846.7} y={932} anchor="middle" size={27}>Inverse cumulative distribution function</Txt>
      <Txt x={846.7} y={965} anchor="middle" size={27}>(Inverse CDF)</Txt>
      <Txt x={976.5} y={996} anchor="middle">quantiles</Txt>
      <VMark x={981.5} y1={1018} y2={1043} />
      <InvCdfChart box={BOX_F} />
      <Strip x={972} y={BOX_F.y} w={20} h={BOX_F.h} values={Q_VALUE} colors={Q_COLORS} />
      <Hist box={HIST_F} counts={HIST_BIMODAL} domain={COUNT_DOMAIN_BI_R} />
      <Txt x={650} y={1153} rotate anchor="middle">Value</Txt>
      <Txt x={1112} y={1322} anchor="middle">Counts</Txt>
      <G x={797} y={1309} i>α</G>
      <G x={815} y={1298} s={17}>+</G>
      <G x={816} y={1318} s={17} i>i</G>
      <div style={{ position: 'absolute', left: 762, top: 1324.2, width: 85, height: 1.6, background: '#222' }} />
      <G x={764} y={1347} i>α</G>
      <G x={781} y={1337} s={17}>+</G>
      <G x={782} y={1357} s={17} i>i</G>
      <G x={792} y={1347}>+</G>
      <G x={809} y={1347} i>α</G>
      <G x={826} y={1337} s={17}>−</G>
      <G x={827} y={1357} s={17} i>i</G>
      <G x={861} y={1328}>(</G>
      <G x={876} y={1328}>=</G>
      <G x={904} y={1328} i>τ</G>
      <G x={917} y={1340} s={17} i>i</G>
      <G x={930} y={1328}>)</G>

      {/* ===== (g) ===== */}
      <Txt x={1} y={1395} size={28}>(g)</Txt>
      <G x={65} y={1412} i>V</G>
      <G x={80} y={1425} s={18} i>i</G>
      <LArrow x={93} y={1412} />
      <G x={141.6} y={1412} i>V</G>
      <G x={157} y={1425} s={18} i>i</G>
      <G x={168} y={1412}>+</G>
      <G x={197} y={1413} s={56}>{'{'}</G>
      <G x={228} y={1390} i>α</G>
      <G x={246} y={1380} s={17}>−</G>
      <G x={247} y={1400} s={17} i>i</G>
      <G x={265} y={1390}>·</G>
      <G x={281} y={1390} i>δ</G>
      <G x={297} y={1401} s={17} i>i</G>
      <G x={375} y={1390}>if</G>
      <G x={400} y={1390} i>δ</G>
      <G x={416} y={1401} s={17} i>i</G>
      <G x={432} y={1390}>≤</G>
      <G x={457} y={1390}>0</G>
      <G x={228} y={1428} i>α</G>
      <G x={246} y={1419} s={17}>+</G>
      <G x={247} y={1441} s={17} i>i</G>
      <G x={265} y={1428}>·</G>
      <G x={281} y={1428} i>δ</G>
      <G x={297} y={1441} s={17} i>i</G>
      <G x={378} y={1428}>if</G>
      <G x={403} y={1428} i>δ</G>
      <G x={419} y={1441} s={17} i>i</G>
      <G x={434} y={1428}>&gt;</G>
      <G x={459} y={1428}>0</G>
      <Arrow x={236} y={1482} />
      <Txt x={279} y={1482}>expectiles</Txt>
      <VMark x={371} y1={1503} y2={1543} />
      <MultiLines box={BOX_G} lines={G_LINES} stripX={360} />
      <Hist box={HIST_G} counts={HIST_UNIMODAL} domain={COUNT_DOMAIN_UNI} />
      <Txt x={40} y={1620} rotate anchor="middle">Value</Txt>
      <Txt x={229} y={1786} anchor="middle">Trial</Txt>
      <Txt x={501} y={1786} anchor="middle">Counts</Txt>

      {/* ===== (h) ===== */}
      <Txt x={613} y={1395} size={28}>(h)</Txt>
      <Arrow x={842} y={1482} />
      <Txt x={885.6} y={1482}>expectiles</Txt>
      <VMark x={981} y1={1499} y2={1538} />
      <MultiLines box={BOX_H} lines={H_LINES} stripX={971.5} />
      <Hist box={HIST_H} counts={HIST_BIMODAL} domain={COUNT_DOMAIN_BI_R} />
      <Txt x={650} y={1620} rotate anchor="middle">Value</Txt>
      <Txt x={840} y={1786} anchor="middle">Trial</Txt>
      <Txt x={1112} y={1786} anchor="middle">Counts</Txt>
    </div>
  );
}
